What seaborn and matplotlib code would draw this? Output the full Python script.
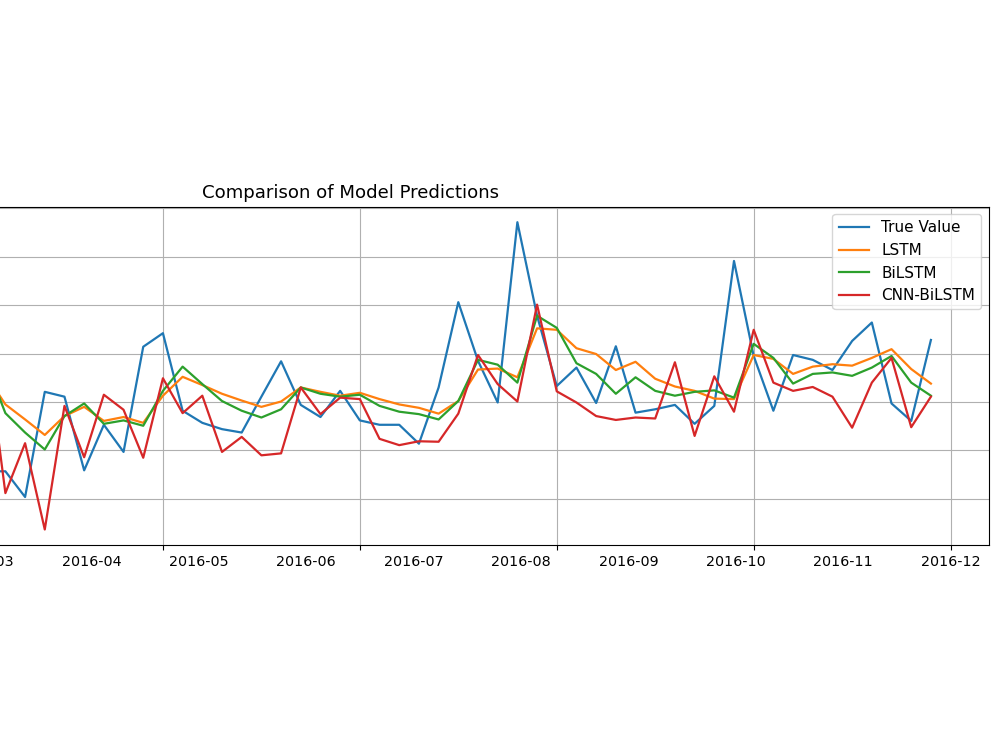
import numpy as np
import matplotlib
matplotlib.use("Agg")
import matplotlib.pyplot as plt
from matplotlib.ticker import MultipleLocator, NullFormatter, FixedLocator, FixedFormatter
import seaborn as sns

# weekly sample index (only the visible part of the series)
index = list(range(11, 60))

true_value = [157, 157, 104, 321, 311, 159, 253, 197, 414, 442, 282, 257, 244, 237, 311, 384,
              294, 269, 323, 262, 253, 253, 214, 330, 506, 385, 299, 671, 478, 333, 371, 298,
              415, 278, 285, 294, 255, 292, 591, 395, 282, 397, 387, 366, 426, 464, 297, 261, 428]
lstm = [357, 295, 264, 232, 271, 290, 261, 269, 257, 313, 352, 335, 317, 303, 290, 301,
        330, 321, 313, 319, 306, 295, 288, 276, 302, 367, 369, 351, 452, 449, 411, 399,
        366, 383, 348, 332, 323, 307, 306, 397, 389, 358, 373, 378, 375, 391, 409, 368, 338]
bilstm = [382, 277, 237, 202, 271, 297, 255, 262, 251, 323, 373, 337, 302, 282, 268, 285,
          330, 317, 311, 315, 292, 280, 275, 264, 302, 387, 377, 340, 478, 453, 380, 358,
          317, 351, 323, 313, 321, 324, 309, 420, 391, 338, 358, 361, 354, 371, 395, 340, 313]
cnn_bilstm = [427, 112, 215, 37, 292, 186, 315, 284, 185, 349, 277, 313, 197, 228, 190, 194,
              330, 275, 309, 306, 224, 211, 219, 218, 276, 397, 337, 301, 501, 322, 299, 271,
              263, 268, 266, 382, 230, 353, 280, 449, 340, 323, 331, 311, 247, 340, 391, 248, 311]

month_labels = ["2016-01", "2016-02", "2016-03", "2016-04", "2016-05", "2016-06",
                "2016-07", "2016-08", "2016-09", "2016-10", "2016-11", "2016-12"]

series = [("True Value", true_value, "C0"), ("LSTM", lstm, "C1"),
          ("BiLSTM", bilstm, "C2"), ("CNN-BiLSTM", cnn_bilstm, "C3")]

fig = plt.figure(figsize=(10, 7.5), dpi=100)
ax = fig.add_axes([-0.289, 0.2733, 1.278, 0.4511])

for name, vals, col in series:
    sns.lineplot(x=index, y=vals, label=name, color=col, ax=ax, linewidth=1.6)

ax.set_xlim(-2.95, 61.95)
ax.set_ylim(4.9, 703)

ax.xaxis.remove_overlapping_locs = False
ax.xaxis.set_major_locator(MultipleLocator(10))
ax.xaxis.set_major_formatter(NullFormatter())
label_pos = np.linspace(0, 60, len(month_labels))
ax.xaxis.set_minor_locator(FixedLocator(label_pos))
ax.xaxis.set_minor_formatter(FixedFormatter(month_labels))
ax.tick_params(axis="x", which="minor", length=0, pad=7, labelsize=10.3)
ax.yaxis.set_major_locator(MultipleLocator(100))

ax.grid(True, which="major")
ax.set_title("Comparison of Model Predictions", fontsize=13.1)
ax.set_xlabel("")
ax.set_ylabel("")
ax.legend(loc="upper right", fontsize=11)

fig.savefig("out.png", dpi=100)
